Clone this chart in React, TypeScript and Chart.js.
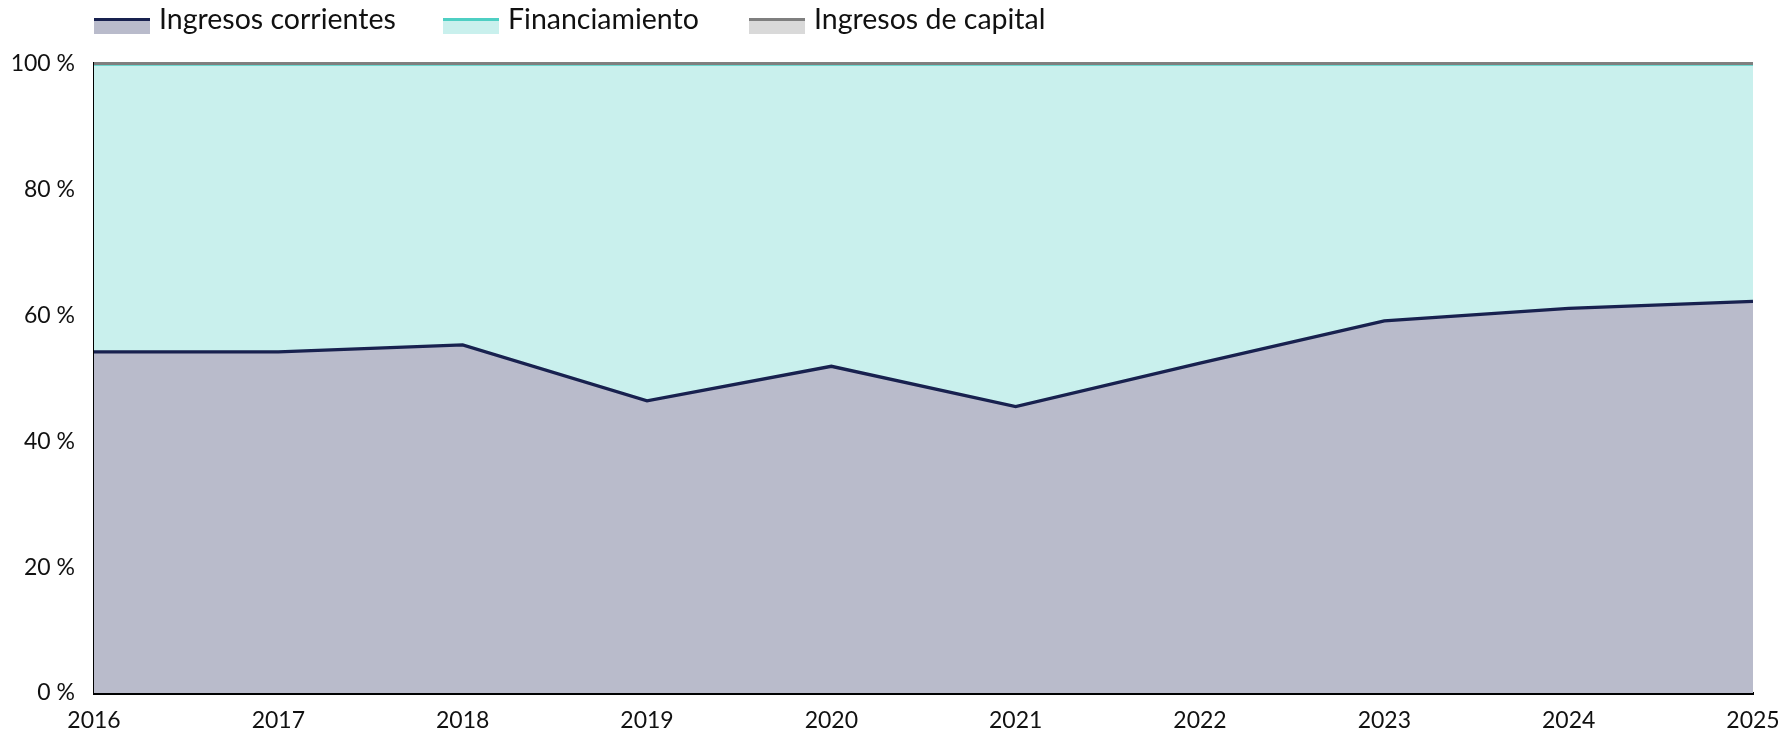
import React, { useEffect, useRef } from 'react';
import { Chart, registerables } from 'chart.js';

Chart.register(...registerables);

const years = ['2016', '2017', '2018', '2019', '2020', '2021', '2022', '2023', '2024', '2025'];
const ingresosCorrientes = [54.2, 54.2, 55.3, 46.4, 51.9, 45.5, 52.4, 59.1, 61.1, 62.2];
const financiamiento = [45.7, 45.7, 44.6, 53.5, 48.0, 54.4, 47.5, 40.8, 38.8, 37.7];
const ingresosCapital = [0.1, 0.1, 0.1, 0.1, 0.1, 0.1, 0.1, 0.1, 0.1, 0.1];
const yTicks = [0, 20, 40, 60, 80, 100];

const seriesNames = ['Ingresos corrientes', 'Financiamiento', 'Ingresos de capital'];
const lineColors = ['#18214f', '#4ecfc3', '#7f7f7f'];
const fillColors = ['#b9bbcb', '#c9f0ed', '#d9d9d9'];

const FONT = 'Lato, "Noto Sans", sans-serif';

const redrawTopLine = {
  id: 'redrawTopLine',
  afterDatasetsDraw(chart: any) {
    const meta = chart.getDatasetMeta(2);
    if (!meta || !meta.data || !meta.data.length) return;
    const ctx = chart.ctx;
    ctx.save();
    ctx.beginPath();
    meta.data.forEach((pt: any, i: number) => {
      if (i === 0) ctx.moveTo(pt.x, pt.y);
      else ctx.lineTo(pt.x, pt.y);
    });
    ctx.strokeStyle = lineColors[2];
    ctx.lineWidth = 3;
    ctx.lineCap = 'butt';
    ctx.stroke();
    ctx.restore();
  },
};

export default function App() {
  const ref = useRef<HTMLCanvasElement | null>(null);
  useEffect(() => {
    if (!ref.current) return;
    const chart = new Chart(ref.current, {
      type: 'line',
      data: {
        labels: years,
        datasets: [
          {
            label: seriesNames[0],
            data: ingresosCorrientes,
            borderColor: lineColors[0],
            backgroundColor: fillColors[0],
            borderWidth: 3.3,
            fill: 'origin',
            pointRadius: 0,
            tension: 0,
          },
          {
            label: seriesNames[1],
            data: financiamiento,
            borderColor: lineColors[1],
            backgroundColor: fillColors[1],
            borderWidth: 3,
            fill: '-1',
            pointRadius: 0,
            tension: 0,
          },
          {
            label: seriesNames[2],
            data: ingresosCapital,
            borderColor: lineColors[2],
            backgroundColor: fillColors[2],
            borderWidth: 3,
            fill: '-1',
            pointRadius: 0,
            tension: 0,
          },
        ],
      },
      options: {
        animation: false,
        responsive: false,
        maintainAspectRatio: false,
        devicePixelRatio: 1,
        layout: { padding: { top: 63.5, right: 31, bottom: 0, left: 0 } },
        plugins: {
          legend: { display: false },
          tooltip: { enabled: false },
        },
        scales: {
          x: {
            type: 'category',
            offset: false,
            z: 1,
            grid: { display: false, drawTicks: false },
            border: { display: true, color: '#000', width: 3 },
            ticks: {
              font: { family: FONT, size: 23 },
              color: '#111',
              padding: 14,
              maxRotation: 0,
              autoSkip: false,
            },
            afterFit: (s: any) => {
              s.height = 45;
              s.paddingLeft = 0;
              s.paddingRight = 0;
            },
          },
          y: {
            stacked: true,
            min: 0,
            max: 100,
            z: 1,
            grid: { display: false, drawTicks: false },
            border: { display: true, color: '#000', width: 3 },
            afterBuildTicks: (s: any) => {
              s.ticks = yTicks.map((v) => ({ value: v }));
            },
            ticks: {
              font: { family: FONT, size: 23 },
              color: '#111',
              padding: 19,
              callback: (v: any) => `${v} %`,
            },
            afterFit: (s: any) => {
              s.width = 94;
              s.paddingTop = 0;
              s.paddingBottom = 0;
            },
          },
        },
      },
      plugins: [redrawTopLine],
    });
    return () => chart.destroy();
  }, []);

  const legendLefts = [94, 443, 749];

  return (
    <div style={{ position: 'fixed', left: 0, top: 0, width: 1784, height: 738, background: '#fff', fontFamily: FONT }}>
      <canvas ref={ref} width={1784} height={738} style={{ position: 'absolute', left: 0, top: 0, width: 1784, height: 738 }} />
      {seriesNames.map((name, i) => (
        <React.Fragment key={name}>
          <div
            style={{
              position: 'absolute',
              left: legendLefts[i],
              top: 18,
              width: 56,
              height: 13,
              background: fillColors[i],
              borderTop: `3.5px solid ${lineColors[i]}`,
            }}
          />
          <span
            style={{
              position: 'absolute',
              left: legendLefts[i] + 65,
              top: 1,
              fontSize: 28.5,
              lineHeight: 'normal',
              color: '#111',
              whiteSpace: 'nowrap',
            }}
          >
            {name}
          </span>
        </React.Fragment>
      ))}
    </div>
  );
}
